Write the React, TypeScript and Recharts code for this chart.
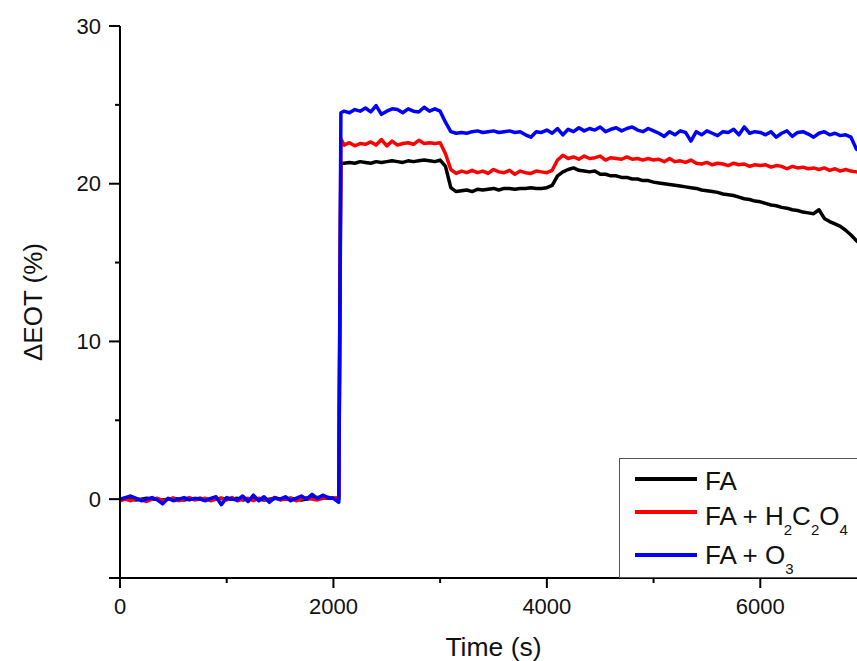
import React from "react";
import { LineChart, Line, XAxis, YAxis, Legend } from "recharts";

// sample times (s)
const TIME = [
  0, 50, 100, 150, 200, 250, 300, 350, 400, 450, 500, 550, 600, 650, 700, 750, 800, 850, 900, 950,
  1000, 1050, 1100, 1150, 1200, 1250, 1300, 1350, 1400, 1450, 1500, 1550, 1600, 1650, 1700, 1750, 1800, 1850, 1900, 1950,
  2000, 2050, 2070,
  2100, 2150, 2200, 2250, 2300, 2350, 2400, 2450, 2500, 2550, 2600, 2650, 2700, 2750, 2800, 2850, 2900, 2950,
  3000, 3050, 3100, 3150, 3200, 3250, 3300, 3350, 3400, 3450, 3500, 3550, 3600, 3650, 3700, 3750, 3800, 3850, 3900, 3950,
  4000, 4050, 4100, 4150, 4200, 4250, 4300, 4350, 4400, 4450, 4500, 4550, 4600, 4650, 4700, 4750, 4800, 4850, 4900, 4950,
  5000, 5050, 5100, 5150, 5200, 5250, 5300, 5350, 5400, 5450, 5500, 5550, 5600, 5650, 5700, 5750, 5800, 5850, 5900, 5950,
  6000, 6050, 6100, 6150, 6200, 6250, 6300, 6350, 6400, 6450, 6500, 6550, 6600, 6650, 6700, 6750, 6800, 6850, 6900, 6950,
  7000,
];

// ΔEOT (%) - FA
const FA = [
  0.0, 0.05, 0.0, -0.05, 0.0, 0.05, 0.0, 0.0, -0.05, 0.0, 0.05, 0.0, -0.05, 0.0, 0.0, 0.05, 0.0, -0.05, 0.0, 0.05,
  0.0, 0.0, 0.05, -0.05, 0.0, 0.05, 0.0, -0.05, 0.0, 0.05, 0.0, 0.0, 0.05, 0.0, -0.05, 0.0, 0.05, 0.1, 0.1, 0.05,
  0.05, 0.0, 21.3,
  21.3, 21.35, 21.3, 21.4, 21.35, 21.3, 21.4, 21.35, 21.4, 21.45, 21.4, 21.35, 21.45, 21.4, 21.45, 21.5, 21.45, 21.4,
  21.5, 21.1, 19.75, 19.5, 19.55, 19.6, 19.5, 19.65, 19.6, 19.65, 19.7, 19.6, 19.7, 19.7, 19.65, 19.7, 19.7, 19.75, 19.7, 19.7,
  19.75, 19.9, 20.5, 20.75, 20.9, 21.0, 20.85, 20.8, 20.75, 20.8, 20.6, 20.6, 20.5, 20.5, 20.4, 20.4, 20.3, 20.3, 20.2, 20.2,
  20.1, 20.05, 20.0, 19.95, 19.9, 19.85, 19.8, 19.75, 19.7, 19.6, 19.55, 19.5, 19.45, 19.35, 19.3, 19.25, 19.15, 19.05, 19.0, 18.9,
  18.85, 18.75, 18.65, 18.6, 18.5, 18.45, 18.35, 18.3, 18.2, 18.15, 18.1, 18.35, 17.8, 17.6, 17.45, 17.3, 17.05, 16.75, 16.4, 16.1,
  15.8,
];

// ΔEOT (%) - FA + H2C2O4
const FA_OX = [
  -0.1, 0.0, -0.1, 0.05, -0.05, -0.15, 0.0, 0.05, -0.1, 0.0, 0.05, -0.1, 0.0, 0.1, -0.05, 0.0, 0.05, -0.1, 0.0, 0.05,
  -0.05, 0.1, -0.1, 0.0, 0.05, -0.1, 0.05, 0.0, -0.1, 0.1, -0.05, 0.0, 0.05, -0.1, 0.0, 0.1, 0.0, -0.05, 0.05, 0.1,
  0.05, 0.1, 22.85,
  22.45, 22.6, 22.4, 22.55, 22.5, 22.65, 22.45, 22.8, 22.4, 22.7, 22.45, 22.55, 22.6, 22.5, 22.75, 22.55, 22.6, 22.55,
  22.6, 21.9, 20.9, 20.65, 20.8, 20.7, 20.85, 20.7, 20.8, 20.65, 20.9, 20.75, 20.7, 20.85, 20.6, 20.8, 20.7, 20.65, 20.8, 20.75,
  20.7, 20.85, 21.5, 21.8, 21.6, 21.7, 21.55, 21.75, 21.6, 21.65, 21.75, 21.5, 21.65, 21.6, 21.55, 21.7, 21.55, 21.6, 21.5, 21.6,
  21.5, 21.55, 21.4, 21.6, 21.4, 21.45, 21.35, 21.5, 21.3, 21.25, 21.35, 21.2, 21.3, 21.25, 21.15, 21.3, 21.2, 21.25, 21.1, 21.2,
  21.15, 21.2, 21.05, 21.15, 21.1, 20.95, 21.1, 21.0, 21.05, 20.95, 21.0, 20.9, 21.0, 20.85, 20.95, 20.8, 20.9, 20.8, 20.75, 20.7,
  20.7,
];

// ΔEOT (%) - FA + O3
const FA_O3 = [
  0.0, 0.1, 0.2, 0.05, -0.1, 0.0, 0.1, -0.05, -0.3, 0.05, -0.1, 0.0, 0.1, -0.05, 0.05, 0.0, -0.1, 0.05, 0.15, -0.35,
  0.1, 0.0, -0.05, 0.2, -0.15, 0.25, -0.1, 0.15, -0.2, 0.1, 0.0, 0.15, -0.1, 0.05, 0.2, 0.0, 0.3, 0.05, 0.25, 0.1,
  0.05, -0.2, 24.5,
  24.6, 24.5, 24.7, 24.6, 24.8, 24.55, 24.95, 24.4, 24.6, 24.75, 24.7, 24.5, 24.75, 24.6, 24.55, 24.85, 24.6, 24.75,
  24.6, 23.9, 23.3, 23.2, 23.25, 23.2, 23.3, 23.35, 23.25, 23.3, 23.35, 23.25, 23.3, 23.35, 23.25, 23.3, 23.1, 22.95, 23.3, 23.25,
  23.4, 23.2, 23.5, 23.1, 23.45, 23.3, 23.55, 23.35, 23.5, 23.4, 23.6, 23.3, 23.45, 23.55, 23.35, 23.5, 23.6, 23.4, 23.3, 23.5,
  23.35, 23.2, 23.0, 23.3, 23.1, 23.35, 23.25, 22.7, 23.3, 23.1, 23.35, 23.2, 23.05, 23.3, 23.25, 23.45, 23.1, 23.6, 23.2, 23.3,
  23.25, 23.1, 23.3, 22.95, 23.2, 23.35, 23.0, 23.25, 23.3, 23.15, 22.95, 23.2, 23.3, 23.1, 23.2, 23.05, 23.1, 22.95, 22.2, 22.0,
  22.1,
];

const SERIES = [
  { key: "fa", name: "FA", color: "#000000" },
  { key: "ox", name: "FA + H2C2O4", color: "#ff0000" },
  { key: "o3", name: "FA + O3", color: "#0000ff" },
];

const X_TICKS = [0, 1000, 2000, 3000, 4000, 5000, 6000, 7000];
const X_LABELED = [0, 2000, 4000, 6000];
const Y_TICKS = [-5, 0, 5, 10, 15, 20, 25, 30];
const Y_LABELED = [0, 10, 20, 30];

const data = TIME.map((t, i) => ({ t, fa: FA[i], ox: FA_OX[i], o3: FA_O3[i] }));

const FONT = "'Liberation Sans', Arial, Helvetica, sans-serif";

// digits after letters become subscripts (H2C2O4, O3)
const withSubs = (name: string) =>
  name.split(/(\d)/).map((part, i) =>
    /\d/.test(part) ? (
      <span key={i} style={{ fontSize: 15, position: "relative", top: 10 }}>{part}</span>
    ) : (
      <span key={i}>{part}</span>
    )
  );

const BottomTick = ({ x, y, payload }: any) => {
  const major = X_LABELED.includes(payload.value);
  return (
    <g>
      <line x1={x} y1={y} x2={x} y2={y + (major ? 10 : 5)} stroke="#000" strokeWidth={2} />
      {major && (
        <text x={x} y={y + 36} textAnchor="middle" fontSize={22} fontFamily={FONT} fill="#111">
          {payload.value}
        </text>
      )}
    </g>
  );
};

const TopTick = ({ x, y, payload }: any) => {
  const major = X_LABELED.includes(payload.value);
  return <line x1={x} y1={y} x2={x} y2={y - (major ? 10 : 5)} stroke="#000" strokeWidth={2} />;
};

const LeftTick = ({ x, y, payload }: any) => {
  const labeled = Y_LABELED.includes(payload.value);
  const long = labeled || payload.value === -5;
  return (
    <g>
      <line x1={x} y1={y} x2={x - (long ? 11 : 5)} y2={y} stroke="#000" strokeWidth={2} />
      {labeled && (
        <text x={x - 19} y={y} textAnchor="end" dominantBaseline="central" fontSize={22} fontFamily={FONT} fill="#111">
          {payload.value}
        </text>
      )}
    </g>
  );
};

const LegendBox = () => {
  const lineCenters = [20, 53, 96];
  const textCenters = [22, 57, 96];
  return (
    <div
      style={{
        position: "relative",
        width: 300,
        height: 120,
        boxSizing: "border-box",
        border: "1.5px solid #555",
        background: "#fff",
        fontFamily: FONT,
        color: "#111",
      }}
    >
      {SERIES.map((s, i) => (
        <React.Fragment key={s.key}>
          <span
            style={{ position: "absolute", left: 15, top: lineCenters[i] - 2, width: 62, height: 4, background: s.color }}
          />
          <span
            style={{ position: "absolute", left: 85, top: textCenters[i] - 16, fontSize: 26, lineHeight: "32px", whiteSpace: "nowrap" }}
          >
            {withSubs(s.name)}
          </span>
        </React.Fragment>
      ))}
    </div>
  );
};

export default function App() {
  return (
    <div style={{ position: "fixed", left: 0, top: 0, width: 857, height: 661, overflow: "hidden", background: "#fff" }}>
      <LineChart width={880} height={661} data={data} margin={{ top: 26, right: 13, bottom: 0, left: 0 }}>
        <XAxis
          dataKey="t"
          type="number"
          domain={[0, 7000]}
          ticks={X_TICKS}
          interval={0}
          height={83}
          tickSize={0}
          tickMargin={0}
          tickLine={false}
          axisLine={{ stroke: "#000", strokeWidth: 2 }}
          tick={<BottomTick />}
          label={{
            content: ({ viewBox }: any) => (
              <text x={viewBox.x + viewBox.width / 2} y={656} textAnchor="middle" fontSize={26.5} fontFamily={FONT} fill="#111">
                Time (s)
              </text>
            ),
          }}
        />
        <XAxis
          xAxisId="top"
          orientation="top"
          dataKey="t"
          type="number"
          domain={[0, 7000]}
          ticks={X_TICKS}
          interval={0}
          height={0}
          tickSize={0}
          tickMargin={0}
          tickLine={false}
          axisLine={{ stroke: "#000", strokeWidth: 2 }}
          tick={<TopTick />}
        />
        <YAxis
          type="number"
          domain={[-5, 30]}
          ticks={Y_TICKS}
          interval={0}
          width={120}
          tickSize={0}
          tickMargin={0}
          tickLine={false}
          axisLine={{ stroke: "#000", strokeWidth: 2 }}
          tick={<LeftTick />}
          label={{
            content: ({ viewBox }: any) => {
              const cx = 33;
              const cy = viewBox.y + viewBox.height / 2;
              return (
                <text x={cx} y={cy} transform={`rotate(-90 ${cx} ${cy})`} textAnchor="middle" dominantBaseline="central" fontSize={26} fontFamily={FONT} fill="#111">
                  ΔEOT (%)
                </text>
              );
            },
          }}
        />
        {SERIES.map((s) => (
          <Line
            key={s.key}
            dataKey={s.key}
            name={s.name}
            type="linear"
            stroke={s.color}
            strokeWidth={3.5}
            strokeLinejoin="round"
            dot={false}
            activeDot={false}
            isAnimationActive={false}
          />
        ))}
        <Legend
          layout="vertical"
          align="center"
          verticalAlign="middle"
          content={<LegendBox />}
          wrapperStyle={{ left: 619, top: 458, width: 300, height: 120 }}
        />
      </LineChart>
    </div>
  );
}
